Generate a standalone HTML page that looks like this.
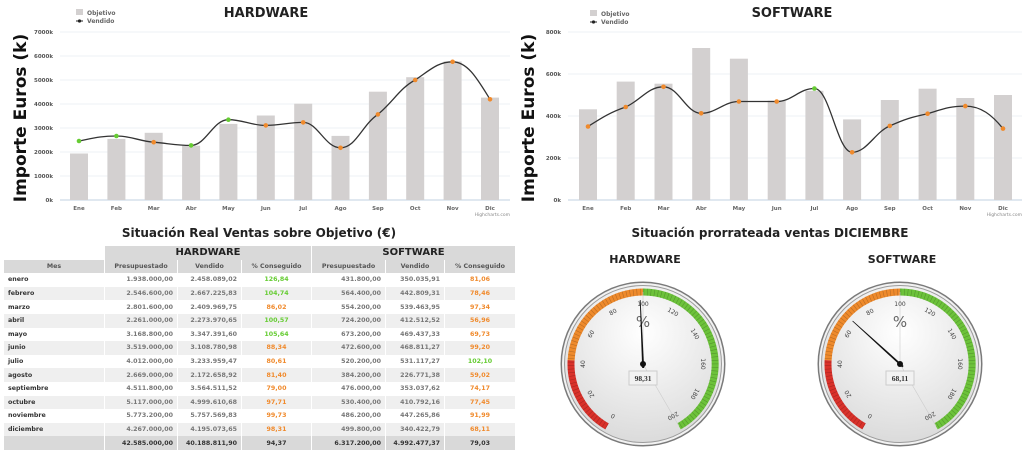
<!DOCTYPE html>
<html><head><meta charset="utf-8"><style>
body{margin:0;width:1024px;height:452px;background:#fff;overflow:hidden;position:relative;font-family:"DejaVu Sans","Liberation Sans",sans-serif}
svg{position:absolute;left:0;top:0}
table{position:absolute;left:3px;top:246px;width:512px;border-collapse:separate;border-spacing:1px 0;font-size:6.3px;font-weight:bold;color:#444;table-layout:fixed}
td,th{height:13.6px;padding:0 4px;white-space:nowrap;overflow:hidden}
th{background:#d9d9d9;color:#555}
td{text-align:right;color:#777}
td.m{text-align:left;color:#333}
tr.a td{background:#efefef}
.g{color:#6c3 !important;text-align:center}.o{color:#f08a2c !important;text-align:center}
tr.t td{background:#d9d9d9;color:#333}
</style></head><body>
<svg width="1024" height="452" viewBox="0 0 1024 452" font-family="DejaVu Sans, Liberation Sans, sans-serif">
<defs><radialGradient id="fg" cx="0.5" cy="0.3" r="0.8"><stop offset="0" stop-color="#fff"/><stop offset="1" stop-color="#d6d6d6"/></radialGradient></defs>
<!-- HARDWARE chart -->
<text x="266" y="17" font-size="13" font-weight="bold" text-anchor="middle" fill="#222">HARDWARE</text>
<rect x="76" y="9" width="7" height="6" fill="#d3d0d0"/><text x="87" y="15" font-size="6" font-weight="bold" fill="#666">Objetivo</text>
<line x1="76" y1="21" x2="83" y2="21" stroke="#222"/><circle cx="79.5" cy="21" r="1.6" fill="#222"/><text x="87" y="23" font-size="6" font-weight="bold" fill="#666">Vendido</text>
<text transform="translate(26,118) rotate(-90)" font-size="17" font-weight="bold" text-anchor="middle" fill="#111">Importe Euros (k)</text>
<g stroke="#eef0f4" stroke-width="1"><line x1="60" y1="32" x2="510" y2="32"/><line x1="60" y1="56" x2="510" y2="56"/><line x1="60" y1="80" x2="510" y2="80"/><line x1="60" y1="104" x2="510" y2="104"/><line x1="60" y1="128" x2="510" y2="128"/><line x1="60" y1="152" x2="510" y2="152"/><line x1="60" y1="176" x2="510" y2="176"/></g>
<line x1="60" y1="200" x2="510" y2="200" stroke="#c0d0e0"/>
<g font-size="5.5" font-weight="bold" fill="#555" text-anchor="end"><text x="53" y="34">7000k</text><text x="53" y="58">6000k</text><text x="53" y="82">5000k</text><text x="53" y="106">4000k</text><text x="53" y="130">3000k</text><text x="53" y="154">2000k</text><text x="53" y="178">1000k</text><text x="53" y="202">0k</text></g>
<g fill="#d3d0d0"><rect x="70" y="153.5" width="18" height="46.5"/><rect x="107.4" y="138.9" width="18" height="61.1"/><rect x="144.7" y="132.8" width="18" height="67.2"/><rect x="182.1" y="145.7" width="18" height="54.3"/><rect x="219.4" y="123.9" width="18" height="76.1"/><rect x="256.8" y="115.5" width="18" height="84.5"/><rect x="294.2" y="103.7" width="18" height="96.3"/><rect x="331.5" y="135.9" width="18" height="64.1"/><rect x="368.9" y="91.7" width="18" height="108.3"/><rect x="406.2" y="77.2" width="18" height="122.8"/><rect x="443.6" y="61.4" width="18" height="138.6"/><rect x="481" y="97.6" width="18" height="102.4"/></g>
<g font-size="5.5" font-weight="bold" fill="#666" text-anchor="middle"><text x="79" y="210">Ene</text><text x="116.4" y="210">Feb</text><text x="153.7" y="210">Mar</text><text x="191.1" y="210">Abr</text><text x="228.4" y="210">May</text><text x="265.8" y="210">Jun</text><text x="303.2" y="210">Jul</text><text x="340.5" y="210">Ago</text><text x="377.9" y="210">Sep</text><text x="415.2" y="210">Oct</text><text x="452.6" y="210">Nov</text><text x="490" y="210">Dic</text></g>
<text x="510" y="216" font-size="4.5" fill="#888" text-anchor="end">Highcharts.com</text>
<path fill="none" stroke="#333" stroke-width="1.3" d="M79,141 C94,138 101,136 116.4,136 C131,136 139,141 153.7,142.2 C169,143.5 176,145.4 191.1,145.4 C206,145.4 213,119.7 228.4,119.7 C243,119.7 251,125.4 265.8,125.4 C281,125.4 288,122.4 303.2,122.4 C318,122.4 325,147.8 340.5,147.8 C356,147.8 362,125 377.9,114.4 C393,102 400,88 415.2,80 C430,70 438,61.8 452.6,61.8 C468,61.8 478,80 490,99.3"/>
<g><circle cx="79" cy="141" r="2.3" fill="#6c3"/><circle cx="116.4" cy="136" r="2.3" fill="#6c3"/><circle cx="153.7" cy="142.2" r="2.3" fill="#f08a2c"/><circle cx="191.1" cy="145.4" r="2.3" fill="#6c3"/><circle cx="228.4" cy="119.7" r="2.3" fill="#6c3"/><circle cx="265.8" cy="125.4" r="2.3" fill="#f08a2c"/><circle cx="303.2" cy="122.4" r="2.3" fill="#f08a2c"/><circle cx="340.5" cy="147.8" r="2.3" fill="#f08a2c"/><circle cx="377.9" cy="114.4" r="2.3" fill="#f08a2c"/><circle cx="415.2" cy="80" r="2.3" fill="#f08a2c"/><circle cx="452.6" cy="61.8" r="2.3" fill="#f08a2c"/><circle cx="490" cy="99.3" r="2.3" fill="#f08a2c"/></g>
<!-- SOFTWARE chart -->
<text x="792" y="17" font-size="13" font-weight="bold" text-anchor="middle" fill="#222">SOFTWARE</text>
<rect x="590" y="10" width="7" height="6" fill="#d3d0d0"/><text x="601" y="16" font-size="6" font-weight="bold" fill="#666">Objetivo</text>
<line x1="590" y1="22" x2="597" y2="22" stroke="#222"/><circle cx="593.5" cy="22" r="1.6" fill="#222"/><text x="601" y="24" font-size="6" font-weight="bold" fill="#666">Vendido</text>
<text transform="translate(534,118) rotate(-90)" font-size="17" font-weight="bold" text-anchor="middle" fill="#111">Importe Euros (k)</text>
<g stroke="#eef0f4"><line x1="568" y1="32" x2="1022" y2="32"/><line x1="568" y1="74" x2="1022" y2="74"/><line x1="568" y1="116" x2="1022" y2="116"/><line x1="568" y1="158" x2="1022" y2="158"/></g>
<line x1="568" y1="200" x2="1022" y2="200" stroke="#c0d0e0"/>
<g font-size="5.5" font-weight="bold" fill="#555" text-anchor="end"><text x="561" y="34">800k</text><text x="561" y="76">600k</text><text x="561" y="118">400k</text><text x="561" y="160">200k</text><text x="561" y="202">0k</text></g>
<g fill="#d3d0d0"><rect x="579" y="109.3" width="18" height="90.7"/><rect x="616.7" y="81.6" width="18" height="118.4"/><rect x="654.5" y="83.7" width="18" height="116.3"/><rect x="692.2" y="48" width="18" height="152"/><rect x="729.9" y="58.7" width="18" height="141.3"/><rect x="767.7" y="100.7" width="18" height="99.3"/><rect x="805.4" y="90.8" width="18" height="109.2"/><rect x="843.1" y="119.4" width="18" height="80.6"/><rect x="880.8" y="100" width="18" height="100"/><rect x="918.6" y="88.7" width="18" height="111.3"/><rect x="956.3" y="98" width="18" height="102"/><rect x="994" y="95" width="18" height="105"/></g>
<g font-size="5.5" font-weight="bold" fill="#666" text-anchor="middle"><text x="588" y="210">Ene</text><text x="625.7" y="210">Feb</text><text x="663.5" y="210">Mar</text><text x="701.2" y="210">Abr</text><text x="738.9" y="210">May</text><text x="776.7" y="210">Jun</text><text x="814.4" y="210">Jul</text><text x="852.1" y="210">Ago</text><text x="889.8" y="210">Sep</text><text x="927.6" y="210">Oct</text><text x="965.3" y="210">Nov</text><text x="1003" y="210">Dic</text></g>
<text x="1022" y="216" font-size="4.5" fill="#888" text-anchor="end">Highcharts.com</text>
<path fill="none" stroke="#333" stroke-width="1.3" d="M588,126.5 C603,117 611,112 625.7,107 C641,100 648,86.8 663.5,86.8 C679,86.8 686,113.3 701.2,113.3 C716,113.3 724,101.5 738.9,101.5 C754,101.5 762,101.5 776.7,101.5 C792,101.5 799,88.5 814.4,88.5 C830,88.5 837,152.3 852.1,152.3 C867,152.3 875,132 889.8,125.9 C905,119 912,117 927.6,113.7 C943,109 950,106.1 965.3,106.1 C981,106.1 992,115 1003,128.6"/>
<g fill="#f08a2c"><circle cx="588" cy="126.5" r="2.3"/><circle cx="625.7" cy="107" r="2.3"/><circle cx="663.5" cy="86.8" r="2.3"/><circle cx="701.2" cy="113.3" r="2.3"/><circle cx="738.9" cy="101.5" r="2.3"/><circle cx="776.7" cy="101.5" r="2.3"/><circle cx="814.4" cy="88.5" r="2.3" fill="#6c3"/><circle cx="852.1" cy="152.3" r="2.3"/><circle cx="889.8" cy="125.9" r="2.3"/><circle cx="927.6" cy="113.7" r="2.3"/><circle cx="965.3" cy="106.1" r="2.3"/><circle cx="1003" cy="128.6" r="2.3"/></g>
<!-- titles -->
<text x="259" y="237" font-size="12" font-weight="bold" text-anchor="middle" fill="#222">Situación Real Ventas sobre Objetivo (€)</text>
<text x="770" y="237" font-size="12" font-weight="bold" text-anchor="middle" fill="#222">Situación prorrateada ventas DICIEMBRE</text>
<text x="645" y="263" font-size="11" font-weight="bold" text-anchor="middle" fill="#222">HARDWARE</text>
<text x="902" y="263" font-size="11" font-weight="bold" text-anchor="middle" fill="#222">SOFTWARE</text>
<!-- gauges -->
<g id="gA">
<circle cx="643" cy="364" r="82.5" fill="#7a7a7a"/><circle cx="643" cy="364" r="81" fill="#f2f2f2"/><circle cx="643" cy="364" r="79" fill="#9a9a9a"/><circle cx="643" cy="364" r="78" fill="url(#fg)"/>
<path d="M607,426.4 A72,72 0 0 1 571.1,360.2" fill="none" stroke="#d9312a" stroke-width="7"/>
<path d="M571.1,360.2 A72,72 0 0 1 643,292" fill="none" stroke="#ee8a2c" stroke-width="7"/>
<path d="M643,292 A72,72 0 0 1 679,426.4" fill="none" stroke="#6cc23a" stroke-width="7"/>
<path d="M607,426.4 A72,72 0 1 1 679,426.4" fill="none" stroke="rgba(0,0,0,0.22)" stroke-width="7" stroke-dasharray="0.6 2.9"/>
<line x1="643" y1="292" x2="643" y2="364" stroke="#ccc" stroke-width="0.6"/><line x1="643" y1="364" x2="679" y2="426" stroke="#ccc" stroke-width="0.6"/>
<g font-size="6" fill="#444" text-anchor="middle">
<text x="643" y="306" transform="rotate(-150 643 364)">0</text><text x="643" y="306" transform="rotate(-120 643 364)">20</text><text x="643" y="306" transform="rotate(-90 643 364)">40</text><text x="643" y="306" transform="rotate(-60 643 364)">60</text><text x="643" y="306" transform="rotate(-30 643 364)">80</text><text x="643" y="306">100</text><text x="643" y="306" transform="rotate(30 643 364)">120</text><text x="643" y="306" transform="rotate(60 643 364)">140</text><text x="643" y="306" transform="rotate(90 643 364)">160</text><text x="643" y="306" transform="rotate(120 643 364)">180</text><text x="643" y="306" transform="rotate(150 643 364)">200</text></g>
<text x="643" y="327" font-size="15" fill="#666" text-anchor="middle">%</text>
</g>
<use href="#gA" transform="translate(257,0)"/>
<g transform="rotate(-2.5 643 364)"><polygon points="642,368 644,368 643.4,300 642.6,300" fill="#111"/></g>
<circle cx="643" cy="364" r="3" fill="#111"/>
<rect x="629" y="371" width="28" height="14" fill="#f2f2f2" stroke="#ccc"/><text x="643" y="381" font-size="7.5" font-weight="bold" text-anchor="middle" fill="#333" font-family="Liberation Serif,serif">98,31</text>
<g transform="rotate(-47.8 900 364)"><polygon points="899,368 901,368 900.4,300 899.6,300" fill="#111"/></g>
<circle cx="900" cy="364" r="3" fill="#111"/>
<rect x="886" y="371" width="28" height="14" fill="#f2f2f2" stroke="#ccc"/><text x="900" y="381" font-size="7.5" font-weight="bold" text-anchor="middle" fill="#333" font-family="Liberation Serif,serif">68,11</text>
</svg>
<table>
<colgroup><col style="width:100px"><col style="width:72px"><col style="width:63px"><col style="width:69px"><col style="width:73px"><col style="width:58px"><col style="width:70px"></colgroup>
<tr><td style="background:#fff"></td><th colspan="3" style="font-size:10px;color:#222">HARDWARE</th><th colspan="3" style="font-size:10px;color:#222">SOFTWARE</th></tr>
<tr><th>Mes</th><th>Presupuestado</th><th>Vendido</th><th>% Conseguido</th><th>Presupuestado</th><th>Vendido</th><th>% Conseguido</th></tr>
<tr><td class="m">enero</td><td>1.938.000,00</td><td>2.458.089,02</td><td class="g">126,84</td><td>431.800,00</td><td>350.035,91</td><td class="o">81,06</td></tr>
<tr class="a"><td class="m">febrero</td><td>2.546.600,00</td><td>2.667.225,83</td><td class="g">104,74</td><td>564.400,00</td><td>442.809,31</td><td class="o">78,46</td></tr>
<tr><td class="m">marzo</td><td>2.801.600,00</td><td>2.409.969,75</td><td class="o">86,02</td><td>554.200,00</td><td>539.463,95</td><td class="o">97,34</td></tr>
<tr class="a"><td class="m">abril</td><td>2.261.000,00</td><td>2.273.970,65</td><td class="g">100,57</td><td>724.200,00</td><td>412.512,52</td><td class="o">56,96</td></tr>
<tr><td class="m">mayo</td><td>3.168.800,00</td><td>3.347.391,60</td><td class="g">105,64</td><td>673.200,00</td><td>469.437,33</td><td class="o">69,73</td></tr>
<tr class="a"><td class="m">junio</td><td>3.519.000,00</td><td>3.108.780,98</td><td class="o">88,34</td><td>472.600,00</td><td>468.811,27</td><td class="o">99,20</td></tr>
<tr><td class="m">julio</td><td>4.012.000,00</td><td>3.233.959,47</td><td class="o">80,61</td><td>520.200,00</td><td>531.117,27</td><td class="g">102,10</td></tr>
<tr class="a"><td class="m">agosto</td><td>2.669.000,00</td><td>2.172.658,92</td><td class="o">81,40</td><td>384.200,00</td><td>226.771,38</td><td class="o">59,02</td></tr>
<tr><td class="m">septiembre</td><td>4.511.800,00</td><td>3.564.511,52</td><td class="o">79,00</td><td>476.000,00</td><td>353.037,62</td><td class="o">74,17</td></tr>
<tr class="a"><td class="m">octubre</td><td>5.117.000,00</td><td>4.999.610,68</td><td class="o">97,71</td><td>530.400,00</td><td>410.792,16</td><td class="o">77,45</td></tr>
<tr><td class="m">noviembre</td><td>5.773.200,00</td><td>5.757.569,83</td><td class="o">99,73</td><td>486.200,00</td><td>447.265,86</td><td class="o">91,99</td></tr>
<tr class="a"><td class="m">diciembre</td><td>4.267.000,00</td><td>4.195.073,65</td><td class="o">98,31</td><td>499.800,00</td><td>340.422,79</td><td class="o">68,11</td></tr>
<tr class="t"><td></td><td>42.585.000,00</td><td>40.188.811,90</td><td style="text-align:center">94,37</td><td>6.317.200,00</td><td>4.992.477,37</td><td style="text-align:center">79,03</td></tr>
</table>
</body></html>
